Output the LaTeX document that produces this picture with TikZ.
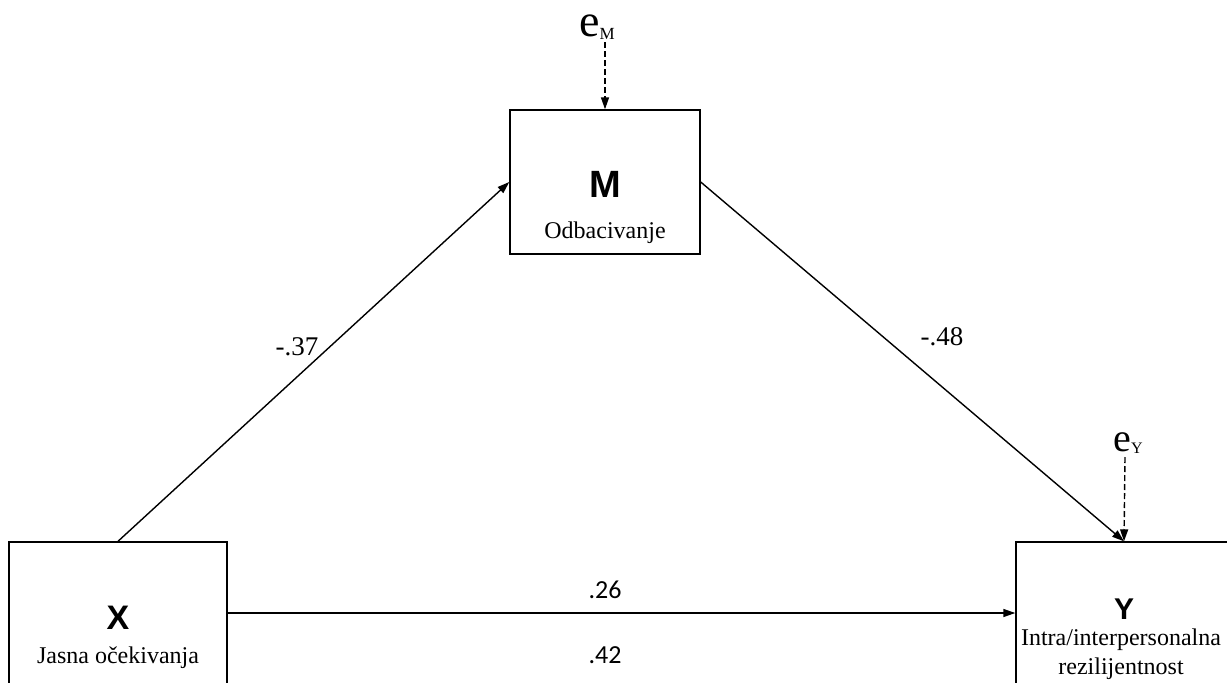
\documentclass[tikz,border=0pt]{standalone}
\usepackage{fontspec}
\setmainfont{Liberation Serif}
\newfontfamily\arialfont{Liberation Sans}
\newfontfamily\calibrifont{Carlito}
\usetikzlibrary{arrows.meta,positioning,calc}
\tikzset{
  varbox/.style   ={draw,line width=1.4pt,inner sep=0pt},
  letter/.style   ={inner sep=0pt,font=\arialfont\bfseries\fontsize{34}{34}\selectfont},
  varname/.style  ={inner sep=0pt,align=center,font=\fontsize{24}{29}\selectfont},
  coef/.style     ={inner sep=0pt,font=\fontsize{27}{27}\selectfont},
  coefsans/.style ={inner sep=0pt,font=\calibrifont\fontsize{26}{26}\selectfont},
  effect/.style   ={-{Triangle[length=12pt,width=8pt]},line width=1.4pt},
  err/.style      ={-{Triangle[length=12pt,width=8pt]},line width=1.4pt,dash pattern=on 6pt off 3pt},
}
\newcommand{\errlabel}[3]{{\fontsize{#1}{#1}\selectfont e}\raisebox{-0.25em}{\fontsize{#2}{#2}\selectfont #3}}
\begin{document}
\begin{tikzpicture}[x=1pt,y=-1pt]
\useasboundingbox (0,0) rectangle (1227,683);
\clip (0,0) rectangle (1227,683);
% Boxes
\node[varbox,minimum width=218pt,minimum height=142pt] (X) at (118,613) {};
\node[varbox,minimum width=190pt,minimum height=144pt] (M) at (605,182) {};
\node[varbox,minimum width=216pt,minimum height=142pt] (Y) at (1124,613) {};
% Box texts
\node[letter] (Xl) at (118,618) {X};
\node[varname] (Xn) at (118,658) {Jasna očekivanja};
\node[letter,font=\arialfont\bfseries\fontsize{38}{38}\selectfont] (Ml) at (605,184) {M};
\node[varname] (Mn) at (605,233) {Odbacivanje};
\node[letter,font=\arialfont\bfseries\fontsize{30}{30}\selectfont] (Yl) at (1124,609) {Y};
\node[varname] (Yn) at (1121,654) {Intra/interpersonalna\\rezilijentnost};
% Error terms
\node[inner sep=0pt] (eM) at (597,27) {\errlabel{46}{17}{M}};
\node[inner sep=0pt] (eY) at (1128,443) {\errlabel{40}{16}{Y}};
\coordinate (eMs) at (605,42);
\coordinate (eYs) at (1125,457);
% Paths
\draw[effect] (X.north) -- (M.west);
\draw[effect] (M.east) -- (Y.north);
\draw[effect] (X.east) -- (Y.west);
\draw[err] (eMs) -- (M.north);
\draw[err] (eYs) -- (Y.north);
% Coefficients
\node[coef] (a) at (297,347) {-.37};
\node[coef] (b) at (942,337) {-.48};
\node[coefsans] (c) at (605,590) {.26};
\node[coefsans] (cp) at (605,655) {.42};
\end{tikzpicture}
\end{document}
